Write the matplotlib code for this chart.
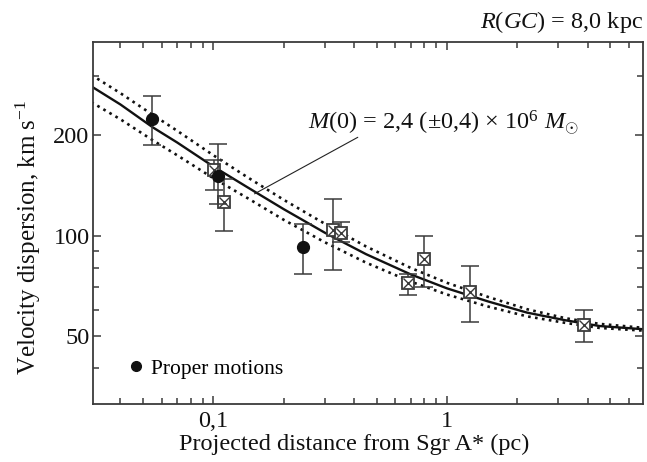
import matplotlib
matplotlib.use("Agg")
import matplotlib.pyplot as plt
from matplotlib.ticker import FixedLocator, FixedFormatter, NullFormatter
from matplotlib.lines import Line2D

plt.rcParams['font.family'] = ['Liberation Serif', 'DejaVu Serif']
plt.rcParams['mathtext.fontset'] = 'custom'
plt.rcParams['mathtext.rm'] = 'Liberation Serif'
plt.rcParams['mathtext.it'] = 'Liberation Serif:italic'

# proper motions (filled circles)
pm_r = [0.0548, 0.1043, 0.243]
pm_v = [223, 151, 92.5]
pm_lo = [36, 27, 15.5]
pm_hi = [39, 37, 16]

# radial velocities (crossed squares)
rv_r = [0.101, 0.1115, 0.325, 0.351, 0.681, 0.794, 1.26, 3.85]
rv_v = [157, 126, 103.7, 102, 71.9, 85, 67.6, 54]
rv_lo = [20, 23, 25, 6.3, 5.5, 14.7, 12.6, 5.9]
rv_hi = [11, 22, 25, 8, 5.1, 15, 13.6, 5.9]

# model curves
cur_r = [0.03, 0.04, 0.055, 0.07, 0.1, 0.14, 0.2, 0.3, 0.45, 0.7, 1.0, 1.5, 2.2, 3.2, 4.5, 7.0]
fit_v = [280, 247, 211, 190, 161, 139.5, 120, 102, 88, 76.5, 69.5, 63.5, 58.8, 55.8, 53.6, 52.4]
hi_v = [303, 267, 230, 206, 174, 149.5, 128, 108.5, 92.8, 80, 72.2, 65.5, 60.2, 56.6, 54.4, 52.9]
lo_v = [251, 223, 193, 174, 148.5, 129.5, 111.5, 95.5, 83, 72.8, 66.6, 61.3, 57.3, 54.8, 52.9, 51.9]

fs = 17.5
ink = '#111111'
grey = '#3a3a3a'

fig = plt.figure(figsize=(6.47, 4.62), dpi=100)
ax = fig.add_axes([0.1437, 0.1255, 0.85, 0.7835])

ax.plot(cur_r, fit_v, '-', color=ink, lw=1.7, zorder=2)
ax.plot(cur_r, hi_v, ':', color=ink, lw=1.9, zorder=2)
ax.plot(cur_r, lo_v, ':', color=ink, lw=1.9, zorder=2)

ax.errorbar(rv_r, rv_v, yerr=[rv_lo, rv_hi], fmt='none', ecolor=grey,
            elinewidth=1.1, capsize=6.5, capthick=1.1, zorder=3)
ax.plot(rv_r, rv_v, 's', ms=8.7, mfc='white', mec=grey, mew=1.3, zorder=4)
ax.plot(rv_r, rv_v, 'x', ms=7.5, color=grey, mew=1.0, zorder=5)

ax.errorbar(pm_r, pm_v, yerr=[pm_lo, pm_hi], fmt='none', ecolor=grey,
            elinewidth=1.1, capsize=6.5, capthick=1.1, zorder=6)
ax.plot(pm_r, pm_v, 'o', ms=8.5, color=ink, zorder=7)

ax.set_xscale('log')
ax.set_yscale('log')
ax.set_xlim(0.0305, 6.9)
ax.set_ylim(31.3, 380)

ax.xaxis.set_major_locator(FixedLocator([0.1, 1]))
ax.xaxis.set_major_formatter(FixedFormatter(['0,1', '1']))
ax.xaxis.set_minor_locator(FixedLocator([0.04, 0.05, 0.06, 0.07, 0.08, 0.09,
                                         0.2, 0.3, 0.4, 0.5, 0.6, 0.7, 0.8, 0.9,
                                         2, 3, 4, 5, 6]))
ax.xaxis.set_minor_formatter(NullFormatter())
ax.yaxis.set_major_locator(FixedLocator([50, 100, 200]))
ax.yaxis.set_major_formatter(FixedFormatter(['50', '100', '200']))
ax.yaxis.set_minor_locator(FixedLocator([40, 60, 70, 80, 90, 300]))
ax.yaxis.set_minor_formatter(NullFormatter())

ax.tick_params(which='both', direction='in', top=True, right=True,
               colors=grey, labelcolor=ink, labelsize=fs)
ax.tick_params(which='major', length=6, width=1.1)
ax.tick_params(which='minor', length=4.2, width=1.1)
ax.tick_params(axis='y', pad=2.5)
ax.tick_params(axis='x', pad=5)
for s in ax.spines.values():
    s.set_color(grey)
    s.set_linewidth(1.3)

ax.set_xlabel('Projected distance from Sgr A* (pc)', fontsize=fs, color=ink)
ax.xaxis.set_label_coords(0.475, -0.082)
ax.set_ylabel('Velocity dispersion, km s$^{-1}$', fontsize=18, color=ink)
ax.yaxis.set_label_coords(-0.09, 0.46)

ax.annotate('', xy=(0.150, 133.4), xytext=(0.415, 197),
            arrowprops=dict(arrowstyle='-', color='#222', lw=0.8,
                            shrinkA=0, shrinkB=0))
ax.text(0.253, 218, r'$M$(0) = 2,4 (±0,4) × 10$^6$ $M_{\odot}$',
        fontsize=fs, color=ink, ha='left', va='center')

fig.text(0.994, 0.952, r'$R$($GC$) = 8,0 kpc', fontsize=fs, color=ink,
         ha='right', va='center')

h = [Line2D([], [], marker='o', ls='none', ms=7, color=ink)]
ax.legend(h, ['Proper motions'], loc='lower left', bbox_to_anchor=(0.055, 0.07),
          frameon=False, fontsize=15.5, handletextpad=0.1, handlelength=1.2,
          borderaxespad=0, borderpad=0)

fig.savefig('out.png', dpi=100)
